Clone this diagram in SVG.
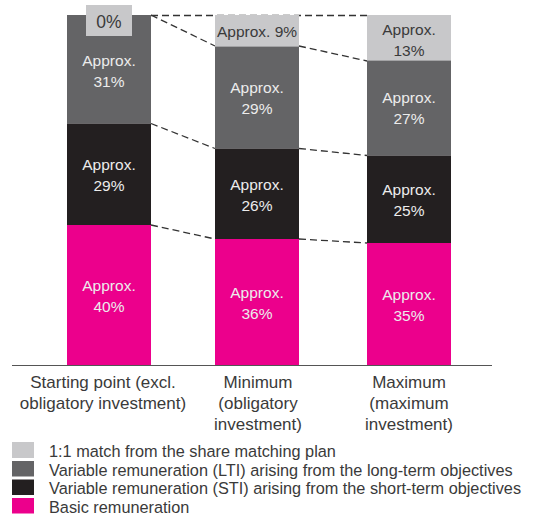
<svg xmlns="http://www.w3.org/2000/svg" width="534" height="517" viewBox="0 0 534 517">
<style>
text{font-family:"Liberation Sans",Arial,sans-serif}
.in{font-size:15.5px;fill:#ececec;text-anchor:middle}
.dk{font-size:15.5px;fill:#3a3a3a;text-anchor:middle}
.ax{font-size:17px;fill:#3a3a3a;text-anchor:middle}
.lg{font-size:16.3px;fill:#3a3a3a}
.c1{fill:#c8c8ca}.c2{fill:#646466}.c3{fill:#231f20}.c4{fill:#ec008c}
.dash{stroke:#333;stroke-width:1.3;stroke-dasharray:7 4;fill:none}
</style>
<g id="connectors">
<line class="dash" x1="151" y1="15.5" x2="367" y2="15.5"/>
<line class="dash" x1="151" y1="15" x2="215" y2="46"/>
<line class="dash" x1="151" y1="123.5" x2="215" y2="148.5"/>
<line class="dash" x1="151" y1="225" x2="215" y2="239"/>
<line class="dash" x1="299" y1="46" x2="367" y2="61"/>
<line class="dash" x1="299" y1="148.5" x2="367" y2="155.5"/>
<line class="dash" x1="299" y1="239" x2="367" y2="243"/>
</g>
<g id="bar1">
<rect class="c2" x="67" y="15" width="84" height="108.5"/>
<rect class="c3" x="67" y="123.5" width="84" height="101.5"/>
<rect class="c4" x="67" y="225" width="84" height="140"/>
<rect class="c1" x="86" y="5" width="46" height="31"/>
<text x="109" y="28" class="dk" style="font-size:17.5px">0%</text>
<text x="109" y="66" class="in">Approx.</text><text x="109" y="87" class="in">31%</text>
<text x="109" y="170" class="in">Approx.</text><text x="109" y="191" class="in">29%</text>
<text x="109" y="291" class="in">Approx.</text><text x="109" y="312" class="in">40%</text>
</g>
<g id="bar2">
<rect class="c1" x="215" y="15" width="84" height="31.5"/>
<rect class="c2" x="215" y="46.5" width="84" height="102"/>
<rect class="c3" x="215" y="148.5" width="84" height="90.5"/>
<rect class="c4" x="215" y="239" width="84" height="126"/>
<text x="257" y="37" class="dk">Approx. 9%</text>
<text x="257" y="93" class="in">Approx.</text><text x="257" y="114" class="in">29%</text>
<text x="257" y="190" class="in">Approx.</text><text x="257" y="211" class="in">26%</text>
<text x="257" y="298" class="in">Approx.</text><text x="257" y="319" class="in">36%</text>
</g>
<g id="bar3">
<rect class="c1" x="367" y="15" width="84" height="45.5"/>
<rect class="c2" x="367" y="60.5" width="84" height="95"/>
<rect class="c3" x="367" y="155.5" width="84" height="87.5"/>
<rect class="c4" x="367" y="243" width="84" height="122"/>
<text x="409" y="35" class="dk">Approx.</text><text x="409" y="56" class="dk">13%</text>
<text x="409" y="103" class="in">Approx.</text><text x="409" y="124" class="in">27%</text>
<text x="409" y="195" class="in">Approx.</text><text x="409" y="216" class="in">25%</text>
<text x="409" y="300" class="in">Approx.</text><text x="409" y="321" class="in">35%</text>
</g>
<g id="axis">
<line x1="12" y1="365.5" x2="492" y2="365.5" stroke="#555" stroke-width="1"/>
<text x="103" y="388" class="ax">Starting point (excl.</text>
<text x="103" y="409" class="ax">obligatory investment)</text>
<text x="258" y="388" class="ax">Minimum</text>
<text x="258" y="409" class="ax">(obligatory</text>
<text x="258" y="430" class="ax">investment)</text>
<text x="409" y="388" class="ax">Maximum</text>
<text x="409" y="409" class="ax">(maximum</text>
<text x="409" y="430" class="ax">investment)</text>
</g>
<g id="legend">
<rect class="c1" x="12" y="442" width="22" height="16"/>
<rect class="c2" x="12" y="461" width="22" height="15.5"/>
<rect class="c3" x="12" y="479.5" width="22" height="15.5"/>
<rect class="c4" x="12" y="498" width="22" height="15.5"/>
<text x="49" y="457" class="lg">1:1 match from the share matching plan</text>
<text x="49" y="475.5" class="lg">Variable remuneration (LTI) arising from the long-term objectives</text>
<text x="49" y="494" class="lg">Variable remuneration (STI) arising from the short-term objectives</text>
<text x="49" y="512.5" class="lg">Basic remuneration</text>
</g>
</svg>
